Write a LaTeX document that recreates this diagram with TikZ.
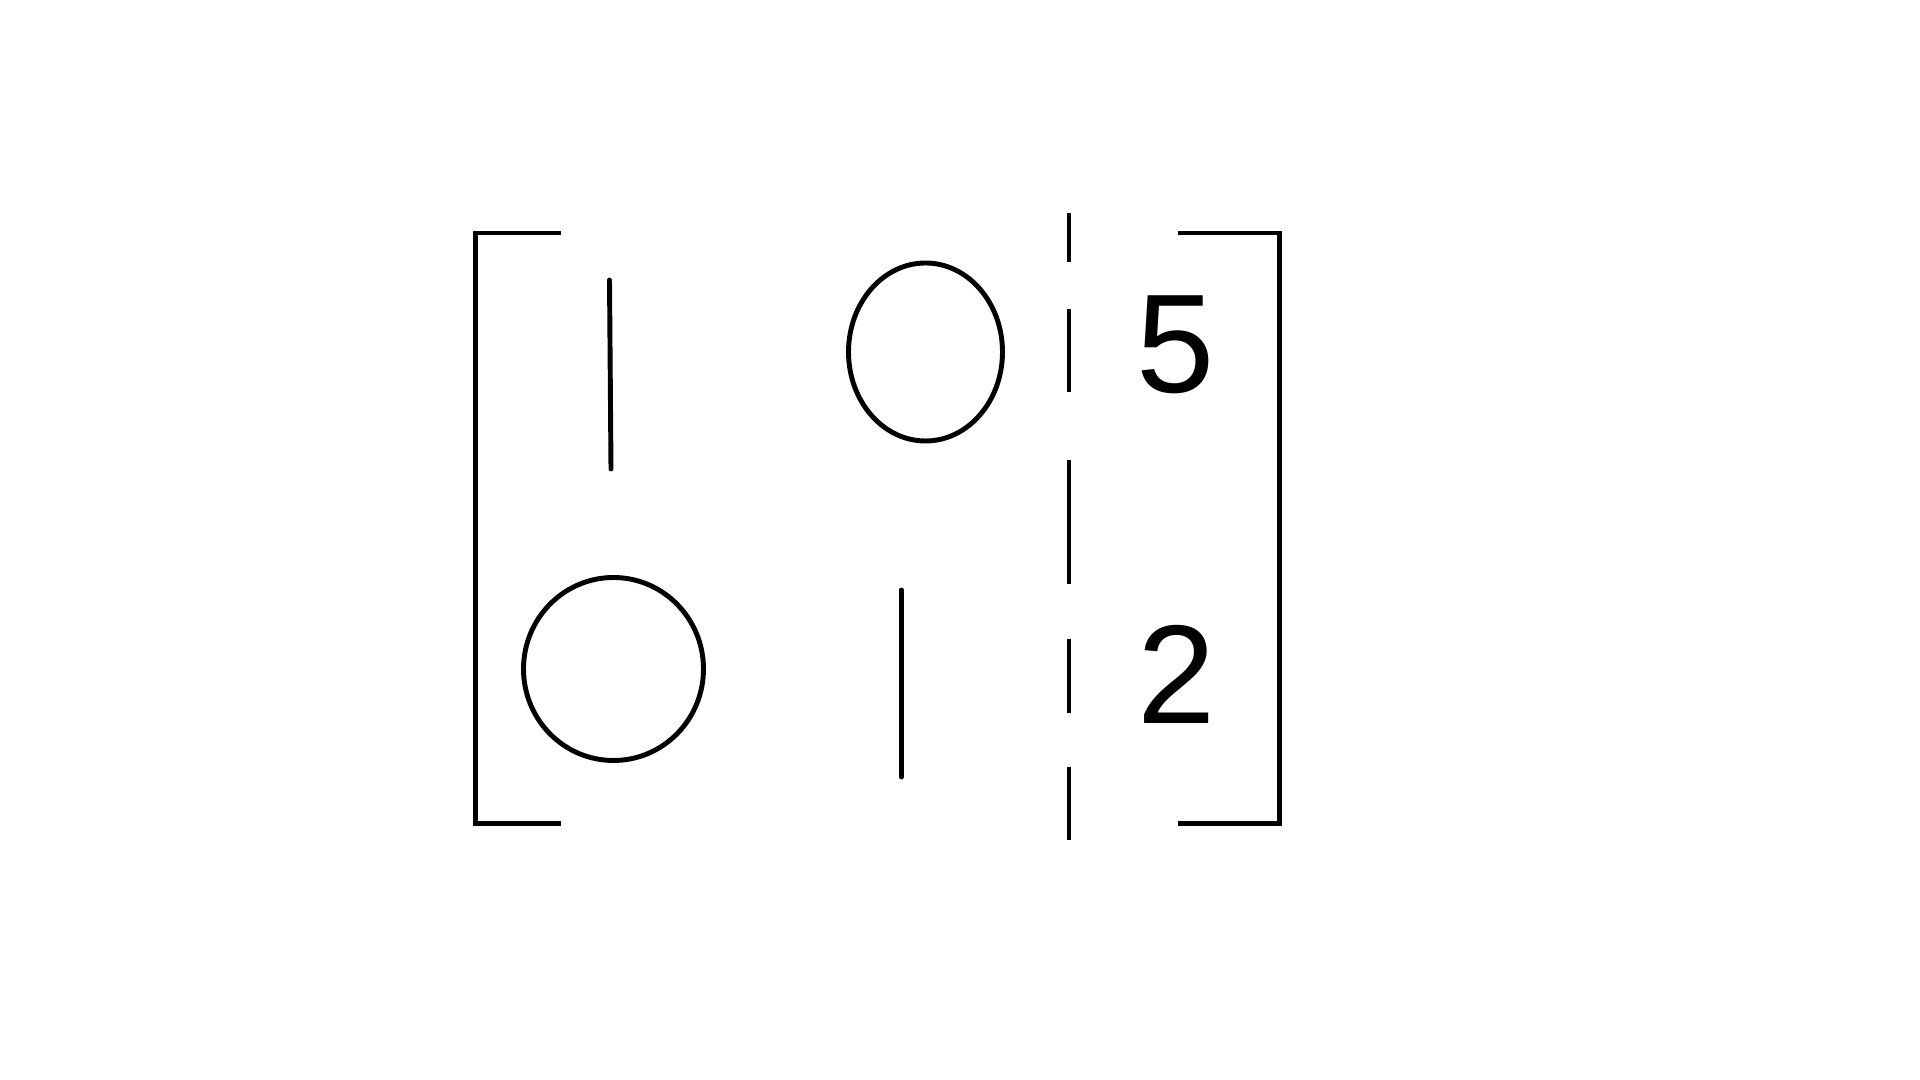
\documentclass[tikz,border=0pt]{standalone}
\usepackage{fontspec}
\setmainfont{Liberation Sans}
\begin{document}
\begin{tikzpicture}[x=0.01cm,y=-0.01cm,
  stroke/.style={line width=1.4pt,draw=black},
  digit/.style={inner sep=0pt,font=\fontsize{40}{42}\selectfont}]
\useasboundingbox[fill=white] (0,0) rectangle (1920,1080);
% brackets
\draw[stroke] (561,233) -- (475.5,233) -- (475.5,823.5) -- (561,823.5);
\draw[stroke] (1178,233) -- (1279.5,233) -- (1279.5,823.5) -- (1178,823.5);
% dashed separator
\draw[stroke] (1069,213) -- (1069,262);
\draw[stroke] (1069,309) -- (1069,392);
\draw[stroke] (1069,460) -- (1069,584);
\draw[stroke] (1069,639) -- (1069,713);
\draw[stroke] (1069,767) -- (1069,840);
% entries
\draw[stroke,line cap=round] (609.5,280) -- (611,469);
\draw[stroke] (925.5,352) ellipse [x radius=77, y radius=89];
\draw[stroke] (613.5,669) ellipse [x radius=90, y radius=91.5];
\draw[stroke,line cap=round] (901.3,590) -- (901.3,777);
\node[digit] (five) at (1176,345) {5};
\node[digit] (two) at (1176.5,674) {2};
\end{tikzpicture}
\end{document}
